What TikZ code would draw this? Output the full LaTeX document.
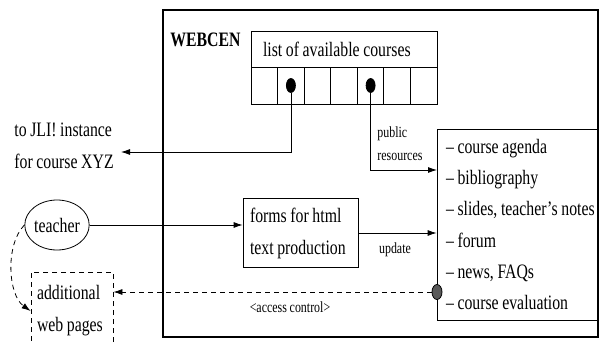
\documentclass[tikz,border=0pt]{standalone}
\usepackage{fontspec}
\setmainfont{Liberation Serif}[FakeStretch=0.77, WordSpace=0.92]
\usetikzlibrary{arrows.meta,shapes.geometric}
\begin{document}
\begin{tikzpicture}[
        x=1pt, y=-1pt,
        line width=0.8pt,
        font=\fontsize{20.5}{32}\selectfont
    ]
    \tikzset{
        mybox/.style = {rectangle, draw=black, inner sep=0pt, align=flush left},
        mycell/.style = {rectangle, draw=black, inner sep=0pt, minimum width=26.57pt, minimum height=37pt},
        mydot/.style = {ellipse, draw=black, fill=black, inner sep=0pt, minimum width=9pt, minimum height=14pt},
        mylabel/.style = {inner sep=0pt, align=flush left, font=\fontsize{15.5}{23}\selectfont},
        edgea/.style = {-{Latex[length=9pt,width=6pt]}},
        edged/.style = {-{Latex[length=9pt,width=6pt]}, dash pattern=on 5pt off 4pt},
    }
    \useasboundingbox (0,0) rectangle (600,345);
    \draw[line width=2pt] (163,10) rectangle (598,337);
    \node[anchor=west, inner sep=0pt, font=\fontsize{20.5}{32}\selectfont\bfseries] at (170,40) (webcen) {WEBCEN};
    %
    \node[mybox, text width=162pt, inner xsep=12pt, minimum height=36pt] at (344,49) (list) {list of available courses};
    \node[mycell] at (264.3,85.5) (c1) {};
    \node[mycell] at (290.9,85.5) (c2) {};
    \node[mycell] at (317.4,85.5) (c3) {};
    \node[mycell] at (344.0,85.5) (c4) {};
    \node[mycell] at (370.6,85.5) (c5) {};
    \node[mycell] at (397.1,85.5) (c6) {};
    \node[mycell] at (423.7,85.5) (c7) {};
    \node[mydot] at (c2) (dot1) {};
    \node[mydot] at (c5) (dot2) {};
    %
    \node[anchor=west, inner sep=0pt, align=flush left] at (14,146) (jli) {to JLI! instance\\for course XYZ};
    \coordinate (jlitip) at (121,152);
    \node[mybox, text width=142pt, inner xsep=9pt, minimum height=191pt,
        font=\fontsize{20.5}{31.2}\selectfont] at (517,224.5) (res)
        {-- course agenda\\-- bibliography\\\mbox{-- slides, teacher's notes}\\-- forum\\-- news, FAQs\\-- course evaluation};
    \coordinate (restip) at (437,170);
    \node[mylabel, anchor=west] at (377,143.5) (publab) {public\\resources};
    %
    \node[ellipse, draw=black, inner sep=0pt, minimum width=60pt, minimum height=50pt] at (57,225) (teacher) {teacher};
    \node[mybox, text width=101pt, inner xsep=7pt, minimum height=69pt] at (300.5,233) (forms) {forms for html\\text production};
    \node[mylabel] at (395,250) (updlab) {update};
    %
    \node[mybox, dash pattern=on 5pt off 4pt, text width=70pt, inner xsep=6pt, minimum height=78pt] at (72,311) (extra) {additional\\web pages};
    \node[ellipse, draw=black, fill=black!65, inner sep=0pt, minimum width=10pt, minimum height=15pt] at (437,292) (acc) {};
    \node[mylabel] at (290,307) (acclab) {<access control>};
    %
    \draw[edgea] (dot1) |- (jlitip);
    \draw[edgea] (dot2) |- (restip);
    \draw[edgea] (teacher.east) -- (teacher.east -| forms.west);
    \draw[edgea] (forms.east) -- (forms.east -| res.west);
    \draw[edged] (acc.west) -- (acc.west -| extra.east);
    \draw[edged] (teacher.west) .. controls (5,245) and (8,295) .. (extra.west);
\end{tikzpicture}
\end{document}
